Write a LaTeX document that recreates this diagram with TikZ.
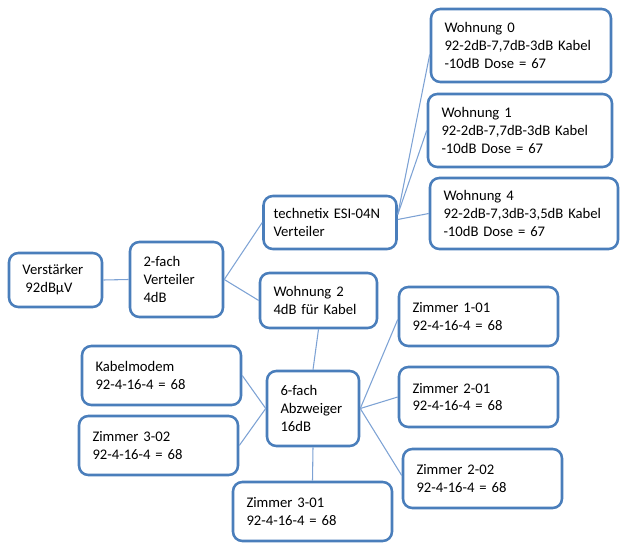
\documentclass[tikz,border=0pt]{standalone}
\usepackage{fontspec}
\setmainfont{Carlito}
\usetikzlibrary{calc}
\definecolor{boxblue}{RGB}{74,126,187}
\definecolor{lineblue}{RGB}{125,162,212}
\tikzset{
  box/.style 2 args={draw=boxblue, line width=1.9pt, rounded corners=7pt, fill=white,
    align=left, inner sep=0pt, font=\fontsize{11pt}{13.4pt}\selectfont,
    minimum width=#1*0.75pt, minimum height=#2*0.75pt, text width=#1*0.75pt-27*0.75pt},
  conn/.style={draw=lineblue, line width=0.8pt}
}
\begin{document}
\begin{tikzpicture}[x=0.75pt, y=-0.75pt]
\useasboundingbox (0,0) rectangle (640,553);
\node[box={93}{54}] (V) at (55.5,280) {Verstärker\\\hspace{0.2em}92dBµV};
\node[box={93}{75}] (F2) at (176.5,279.5) {2-fach\\Verteiler\\4dB};
\node[box={133}{53}, text width=113*0.75pt] (T) at (330,222.5) {technetix ESI-04N\\Verteiler};
\node[box={180}{73}] (W0) at (521,45.5) {Wohnung 0\\92-2dB-7,7dB-3dB Kabel\\-10dB Dose = 67};
\node[box={184}{73}] (W1) at (520,130.5) {Wohnung 1\\92-2dB-7,7dB-3dB Kabel\\-10dB Dose = 67};
\node[box={188}{71}] (W4) at (524,213.5) {Wohnung 4\\92-2dB-7,3dB-3,5dB Kabel\\-10dB Dose = 67};
\node[box={117}{55}] (W2) at (318.5,300.5) {Wohnung 2\\4dB für Kabel};
\node[box={159}{59}] (KM) at (161.5,375.5) {Kabelmodem\\92-4-16-4 = 68};
\node[box={159}{59}] (Z302) at (158.5,445.5) {Zimmer 3-02\\92-4-16-4 = 68};
\node[box={92}{75}] (A6) at (313,408.5) {6-fach\\Abzweiger\\16dB};
\node[box={159}{59}] (Z301) at (312.5,511.5) {Zimmer 3-01\\92-4-16-4 = 68};
\node[box={159}{59}] (Z101) at (478.5,316.5) {Zimmer 1-01\\92-4-16-4 = 68};
\node[box={159}{60}] (Z201) at (478.5,397) {Zimmer 2-01\\92-4-16-4 = 68};
\node[box={159}{59}] (Z202) at (482.5,478.5) {Zimmer 2-02\\92-4-16-4 = 68};
\draw[conn] (V.east) -- (F2.west);
\draw[conn] (F2.east) -- (T.west);
\draw[conn] (F2.east) -- (W2.west);
\draw[conn] ($(T.east)+(0,-8)$) -- ($(W0.west)+(0,9)$);
\draw[conn] ($(T.east)+(0,-8)$) -- (W1.west);
\draw[conn] ($(T.east)+(0,-3)$) -- (W4.west);
\draw[conn] (W2.south) -- (A6.north);
\draw[conn] (KM.east) -- (A6.west);
\draw[conn] (Z302.east) -- (A6.west);
\draw[conn] (A6.east) -- ($(Z101.west)+(0,3)$);
\draw[conn] (A6.east) -- (Z201.west);
\draw[conn] (A6.east) -- ($(Z202.west)+(0,-3)$);
\draw[conn] (A6.south) -- (Z301.north);
\end{tikzpicture}
\end{document}
